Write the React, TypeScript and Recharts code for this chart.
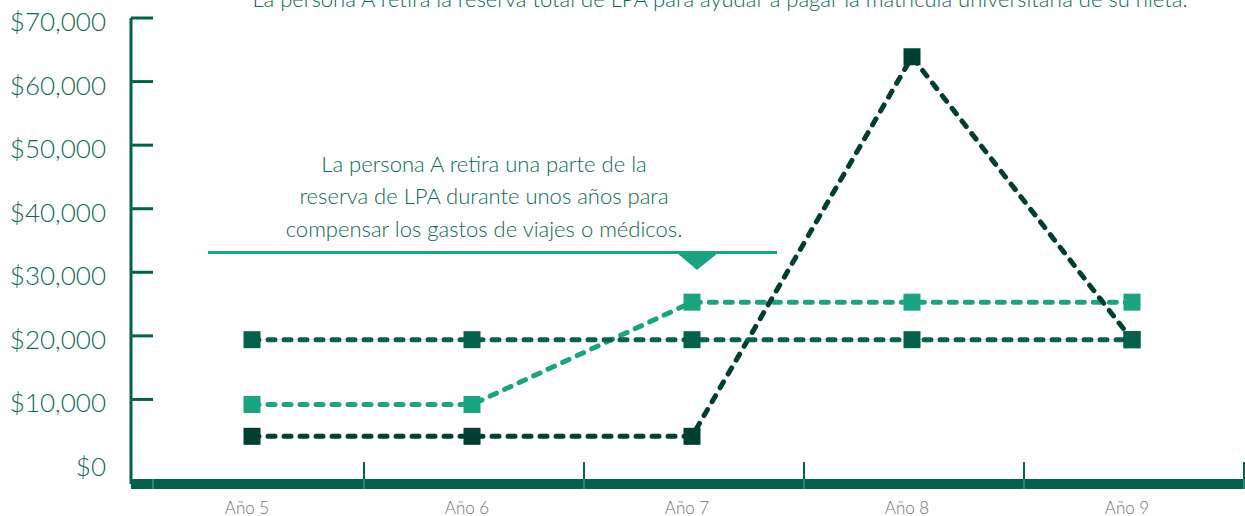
import React from 'react';
import { LineChart, Line, XAxis, YAxis } from 'recharts';

const years = ['Año 5', 'Año 6', 'Año 7', 'Año 8', 'Año 9'];
const retiroTotal = [4200, 4200, 4200, 63900, 19400];
const reservaBase = [19400, 19400, 19400, 19400, 19400];
const retiroParcial = [9200, 9200, 25300, 25300, 25300];
const yTicks = [0, 10000, 20000, 30000, 40000, 50000, 60000, 70000];

const topNote = 'La persona A retira la reserva total de LPA para ayudar a pagar la matrícula universitaria de su nieta.';
const sideNote = [
  'La persona A retira una parte de la',
  'reserva de LPA durante unos años para',
  'compensar los gastos de viajes o médicos.',
];

const data = years.map((year, i) => ({
  year,
  total: retiroTotal[i],
  base: reservaBase[i],
  parcial: retiroParcial[i],
}));

const AXIS = '#05614c';
const DARK = '#003e31';
const MED = '#05614c';
const LIGHT = '#1aa482';
const TEXT = '#0d6a53';
const FONT = 'Lato, "Open Sans", sans-serif';

const fmt = (v: number) => '$' + v.toLocaleString('en-US');

const YTick = (props: any) => {
  const { x, y, payload } = props;
  return (
    <g>
      {payload.value !== 0 && (
        <line x1={x} x2={x + 22} y1={y} y2={y} stroke={AXIS} strokeWidth={3} />
      )}
      <text x={x - 25} y={y + 3} textAnchor="end" dominantBaseline="central"
        fontFamily={FONT} fontWeight={300} fontSize={26} fill={TEXT}>
        {fmt(payload.value)}
      </text>
    </g>
  );
};

const XTick = (props: any) => {
  const { x, y, payload, index } = props;
  const bx = x + 112;
  return (
    <g>
      {index === 0 && (
        <line x1={x - 99} x2={x - 99} y1={y - 5} y2={y + 5} stroke="#5fa896" strokeWidth={1} />
      )}
      <line x1={bx} x2={bx} y1={y - 22} y2={y - 4} stroke={AXIS} strokeWidth={2} />
      <line x1={bx} x2={bx} y1={y - 5} y2={y + 5} stroke="#5fa896" strokeWidth={1} />
      <text x={x - 5} y={y + 23} textAnchor="middle" dominantBaseline="central"
        fontFamily={FONT} fontWeight={300} fontSize={17} fill="#707070">
        {payload.value}
      </text>
    </g>
  );
};

const Square = (color: string) => (props: any) => {
  const { cx, cy, index } = props;
  if (cx == null || cy == null) return <g key={index} />;
  return <rect key={index} x={cx - 8.5} y={cy - 8.5} width={17} height={17} fill={color} />;
};

const dash = '7 9';

export default function App() {
  return (
    <div style={{ position: 'absolute', left: 0, top: 0, width: 1245, height: 516, background: '#fff' }}>
      <LineChart width={1245} height={516} data={data}
        margin={{ top: 18, right: 0, bottom: 0, left: 0 }}>
        <XAxis dataKey="year" type="category" height={32}
          padding={{ left: 121, right: 113 }}
          axisLine={{ stroke: AXIS, strokeWidth: 10 }}
          tickLine={false} tickSize={0} tickMargin={0}
          interval={0} tick={<XTick />} />
        <YAxis type="number" domain={[-3300, 70000]} ticks={yTicks} width={131}
          allowDataOverflow
          axisLine={{ stroke: AXIS, strokeWidth: 3 }}
          tickLine={false} tickSize={0} tickMargin={0}
          interval={0} tick={<YTick />} />
        <Line type="linear" dataKey="parcial" stroke={LIGHT} strokeWidth={5}
          strokeDasharray={dash} strokeLinecap="round"
          dot={Square(LIGHT)} activeDot={false} isAnimationActive={false} />
        <Line type="linear" dataKey="total" stroke={DARK} strokeWidth={5}
          strokeDasharray={dash} strokeLinecap="round"
          dot={Square(DARK)} activeDot={false} isAnimationActive={false} />
        <Line type="linear" dataKey="base" stroke={MED} strokeWidth={5}
          strokeDasharray={dash} strokeLinecap="round"
          dot={Square(MED)} activeDot={false} isAnimationActive={false} />
        <g>
          <text x={720} y={7} textAnchor="middle" fontFamily={FONT} fontWeight={300}
            fontSize={22} fill={TEXT}>{topNote}</text>
          {sideNote.map((t, i) => (
            <text key={i} x={484} y={163 + i * 32.5} textAnchor="middle" dominantBaseline="central"
              fontFamily={FONT} fontWeight={300} fontSize={22} fill={TEXT}>{t}</text>
          ))}
          <line x1={208} x2={777} y1={252.5} y2={252.5} stroke={LIGHT} strokeWidth={3} />
          <polygon points="677,253 718,253 697,270" fill={LIGHT} />
        </g>
      </LineChart>
    </div>
  );
}
